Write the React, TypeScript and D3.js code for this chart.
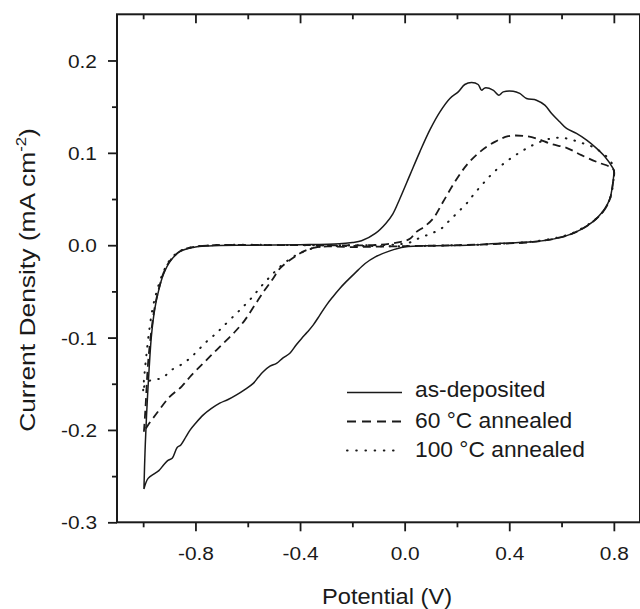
import React, { useEffect, useRef } from "react";
import * as d3 from "d3";

type Pt = [number, number];

// Potential (V) vs current density (mA cm^-2)
const asDeposited: Pt[] = [
  [-0.997, -0.264], [-0.993, -0.225], [-0.987, -0.184], [-0.977, -0.133], [-0.968, -0.097],
  [-0.955, -0.068], [-0.939, -0.047], [-0.923, -0.032], [-0.898, -0.018], [-0.86, -0.007],
  [-0.809, -0.0024], [-0.75, -0.0008], [-0.6, 0], [-0.4, 0.0005], [-0.25, 0.0015],
  [-0.2, 0.003], [-0.165, 0.0048], [-0.112, 0.0128], [-0.072, 0.0236], [-0.045, 0.034],
  [-0.018, 0.0506], [0.02, 0.0759], [0.058, 0.1011], [0.096, 0.1246], [0.135, 0.1444],
  [0.173, 0.1589], [0.205, 0.166], [0.23, 0.174], [0.256, 0.1762], [0.281, 0.174],
  [0.294, 0.1679], [0.307, 0.1703], [0.338, 0.1679], [0.36, 0.1624], [0.377, 0.166],
  [0.415, 0.1668], [0.44, 0.1643], [0.466, 0.1589], [0.504, 0.157], [0.536, 0.1516],
  [0.562, 0.1426], [0.593, 0.1336], [0.619, 0.1264], [0.657, 0.121], [0.696, 0.1137],
  [0.734, 0.1048], [0.766, 0.0957], [0.797, 0.0831], [0.8, 0.081], [0.795, 0.065],
  [0.785, 0.0506], [0.766, 0.0398], [0.74, 0.0307], [0.702, 0.0217], [0.644, 0.0128],
  [0.581, 0.0074], [0.491, 0.0037], [0.364, 0.002], [0.237, 0], [0.11, -0.0005],
  [0.0, -0.002], [-0.059, -0.0064], [-0.112, -0.0126], [-0.151, -0.0198], [-0.191, -0.0305],
  [-0.23, -0.0413], [-0.248, -0.0468], [-0.275, -0.056], [-0.299, -0.0648], [-0.325, -0.076],
  [-0.35, -0.0865], [-0.372, -0.094], [-0.394, -0.1009], [-0.415, -0.108], [-0.439, -0.117],
  [-0.465, -0.122], [-0.49, -0.128], [-0.515, -0.131], [-0.541, -0.137], [-0.56, -0.143],
  [-0.579, -0.1496], [-0.61, -0.156], [-0.643, -0.162], [-0.675, -0.167], [-0.707, -0.171],
  [-0.74, -0.177], [-0.771, -0.184], [-0.8, -0.193], [-0.82, -0.2], [-0.836, -0.2073],
  [-0.856, -0.2163], [-0.87, -0.219], [-0.889, -0.2307], [-0.905, -0.233], [-0.922, -0.238],
  [-0.94, -0.244], [-0.955, -0.247], [-0.981, -0.2524], [-0.997, -0.264],
];

const annealed60: Pt[] = [
  [-0.997, -0.202], [-0.993, -0.185], [-0.99, -0.171], [-0.981, -0.127], [-0.968, -0.0912],
  [-0.955, -0.066], [-0.937, -0.044], [-0.922, -0.03], [-0.895, -0.016], [-0.856, -0.006],
  [-0.81, -0.002], [-0.73, 0], [-0.4, 0], [-0.1, 0.0005], [-0.02, 0.0033],
  [0.02, 0.0069], [0.045, 0.0145], [0.075, 0.02], [0.109, 0.029], [0.147, 0.047],
  [0.192, 0.0686], [0.237, 0.0867], [0.288, 0.1011], [0.345, 0.1119], [0.396, 0.118],
  [0.453, 0.1184], [0.504, 0.1156], [0.562, 0.1094], [0.619, 0.1054], [0.676, 0.0975],
  [0.74, 0.0896], [0.785, 0.0848], [0.8, 0.081], [0.796, 0.066], [0.787, 0.052],
  [0.768, 0.04], [0.742, 0.031], [0.703, 0.022], [0.645, 0.013], [0.58, 0.0075],
  [0.49, 0.0035], [0.36, 0.0015], [0.2, 0], [0.0, -0.001], [-0.2, -0.002],
  [-0.324, -0.0017], [-0.375, -0.0053], [-0.426, -0.0136], [-0.477, -0.0251], [-0.503, -0.036],
  [-0.535, -0.0486], [-0.573, -0.0648], [-0.611, -0.0811], [-0.649, -0.0937], [-0.694, -0.1063],
  [-0.732, -0.117], [-0.771, -0.128], [-0.815, -0.1406], [-0.853, -0.153], [-0.898, -0.164],
  [-0.943, -0.18], [-0.981, -0.1947], [-0.997, -0.202],
];

const annealed100: Pt[] = [
  [-1.0, -0.157], [-0.995, -0.14], [-0.988, -0.12], [-0.978, -0.095], [-0.965, -0.07],
  [-0.95, -0.052], [-0.935, -0.038], [-0.918, -0.026], [-0.895, -0.015], [-0.86, -0.0065],
  [-0.81, -0.002], [-0.73, 0], [-0.3, 0], [-0.05, 0.0005], [0.02, 0.003],
  [0.058, 0.008], [0.103, 0.0128], [0.141, 0.0182], [0.173, 0.0272], [0.208, 0.0369],
  [0.237, 0.0452], [0.265, 0.0553], [0.298, 0.0661], [0.332, 0.0766], [0.364, 0.0849],
  [0.396, 0.0921], [0.43, 0.0986], [0.466, 0.1048], [0.498, 0.1094], [0.536, 0.1137],
  [0.572, 0.1162], [0.606, 0.1162], [0.644, 0.1137], [0.683, 0.1102], [0.719, 0.1065],
  [0.753, 0.1004], [0.785, 0.0921], [0.8, 0.082], [0.797, 0.067], [0.788, 0.053],
  [0.77, 0.041], [0.745, 0.032], [0.705, 0.023], [0.646, 0.0135], [0.58, 0.008],
  [0.49, 0.004], [0.36, 0.0015], [0.2, 0], [0.0, -0.001], [-0.2, -0.001],
  [-0.324, -0.0017], [-0.388, -0.0071], [-0.432, -0.0136], [-0.477, -0.0234], [-0.515, -0.0342],
  [-0.547, -0.044], [-0.579, -0.055], [-0.611, -0.0648], [-0.643, -0.0738], [-0.694, -0.088],
  [-0.719, -0.095], [-0.751, -0.1027], [-0.783, -0.1117], [-0.815, -0.1208], [-0.847, -0.128],
  [-0.891, -0.135], [-0.926, -0.1435], [-0.962, -0.146], [-0.987, -0.148], [-1.0, -0.157],
];

const seriesLabels = ["as-deposited", "60 \u00B0C annealed", "100 \u00B0C annealed"];
const xMajorTicks = [-0.8, -0.4, 0, 0.4, 0.8];
const xMinorTicks = [-1.0, -0.6, -0.2, 0.2, 0.6];
const yMajorTicks = [-0.3, -0.2, -0.1, 0, 0.1, 0.2];
const yMinorTicks = [-0.25, -0.15, -0.05, 0.05, 0.15];

const W = 640;
const H = 609;
const FONT = "'Liberation Sans', Arial, Helvetica, sans-serif";
const INK = "#1a1a1a";

export default function App() {
  const axRef = useRef<SVGGElement>(null);

  const x = d3.scaleLinear().domain([-1.1, 0.9]).range([117, 640]);
  const y = d3.scaleLinear().domain([-0.3, 0.25]).range([522.3, 14.3]);

  const line = d3
    .line<Pt>()
    .x((d) => x(d[0]))
    .y((d) => y(d[1]))
    .curve(d3.curveCatmullRom.alpha(0.5));

  useEffect(() => {
    const g = d3.select(axRef.current);
    g.selectAll("*").remove();
    const fmt = (v: any) => (+v).toFixed(1);
    const y0 = y.range()[0];
    const y1 = y.range()[1];
    const x0 = x.range()[0];

    const bMaj = g.append("g").attr("transform", `translate(0,${y0})`)
      .call(d3.axisBottom(x).tickValues(xMajorTicks).tickSize(9).tickFormat(fmt));
    const bMin = g.append("g").attr("transform", `translate(0,${y0})`)
      .call(d3.axisBottom(x).tickValues(xMinorTicks).tickSize(5).tickFormat(() => ""));
    const tMaj = g.append("g").attr("transform", `translate(0,${y1})`)
      .call(d3.axisTop(x).tickValues(xMajorTicks).tickSize(-9).tickFormat(() => ""));
    const tMin = g.append("g").attr("transform", `translate(0,${y1})`)
      .call(d3.axisTop(x).tickValues(xMinorTicks).tickSize(-5).tickFormat(() => ""));
    const lMaj = g.append("g").attr("transform", `translate(${x0},0)`)
      .call(d3.axisLeft(y).tickValues(yMajorTicks).tickSize(9).tickFormat(fmt));
    const lMin = g.append("g").attr("transform", `translate(${x0},0)`)
      .call(d3.axisLeft(y).tickValues(yMinorTicks).tickSize(5).tickFormat(() => ""));

    [bMaj, bMin, tMaj, tMin, lMaj, lMin].forEach((a) => {
      a.select(".domain").remove();
      a.selectAll(".tick line").attr("stroke", INK).attr("stroke-width", 1.8);
    });

    bMaj.selectAll(".tick text")
      .attr("font-family", FONT)
      .attr("font-size", 18.5)
      .attr("fill", INK)
      .attr("y", 0)
      .attr("dy", 0)
      .attr("transform", "translate(0,37.7) scale(1.13,1)");

    lMaj.selectAll(".tick text")
      .attr("font-family", FONT)
      .attr("font-size", 18.5)
      .attr("fill", INK)
      .attr("x", 0)
      .attr("dy", 0)
      .attr("transform", "translate(-20,6.6) scale(1.13,1)");
  }, []);

  const legendRows = [
    { label: seriesLabels[0], dash: "none", width: 1.6, cap: "butt", lineY: 392.5, textY: 397 },
    { label: seriesLabels[1], dash: "9 6", width: 1.8, cap: "butt", lineY: 421.5, textY: 427.5 },
    { label: seriesLabels[2], dash: "0.6 8.6", width: 2, cap: "round", lineY: 450.5, textY: 457 },
  ];

  return (
    <svg
      width={W}
      height={H}
      style={{ position: "absolute", left: 0, top: 0, background: "#fff" }}
    >
      <rect x={0} y={0} width={W} height={H} fill="#fff" />

      <path d={line(asDeposited) || ""} fill="none" stroke={INK} strokeWidth={1.5} />
      <path d={line(annealed60) || ""} fill="none" stroke={INK} strokeWidth={1.8} strokeDasharray="8 5" />
      <path
        d={line(annealed100) || ""}
        fill="none"
        stroke={INK}
        strokeWidth={2}
        strokeDasharray="0.6 8.2"
        strokeLinecap="round"
      />

      <rect
        x={x.range()[0]}
        y={y.range()[1]}
        width={x.range()[1] - x.range()[0]}
        height={y.range()[0] - y.range()[1]}
        fill="none"
        stroke={INK}
        strokeWidth={2}
      />
      <g ref={axRef} />

      {legendRows.map((r, i) => (
        <g key={i}>
          <line
            x1={347}
            x2={402}
            y1={r.lineY}
            y2={r.lineY}
            stroke={INK}
            strokeWidth={r.width}
            strokeDasharray={r.dash}
            strokeLinecap={r.cap as any}
          />
          <text
            transform={`translate(415,${r.textY}) scale(1.06,1)`}
            fontFamily={FONT}
            fontSize={21.5}
            fill={INK}
          >
            {r.label}
          </text>
        </g>
      ))}

      <text
        transform={`translate(387,604) scale(1.1,1)`}
        textAnchor="middle"
        fontFamily={FONT}
        fontSize={21.5}
        fill={INK}
      >
        Potential (V)
      </text>

      <text
        transform={`translate(35,280) rotate(-90) scale(1.2,1)`}
        textAnchor="middle"
        fontFamily={FONT}
        fontSize={22}
        fill={INK}
      >
        Current Density (mA cm
        <tspan fontSize={14} dy={-9}>-2</tspan>
        <tspan dy={9}>)</tspan>
      </text>
    </svg>
  );
}
